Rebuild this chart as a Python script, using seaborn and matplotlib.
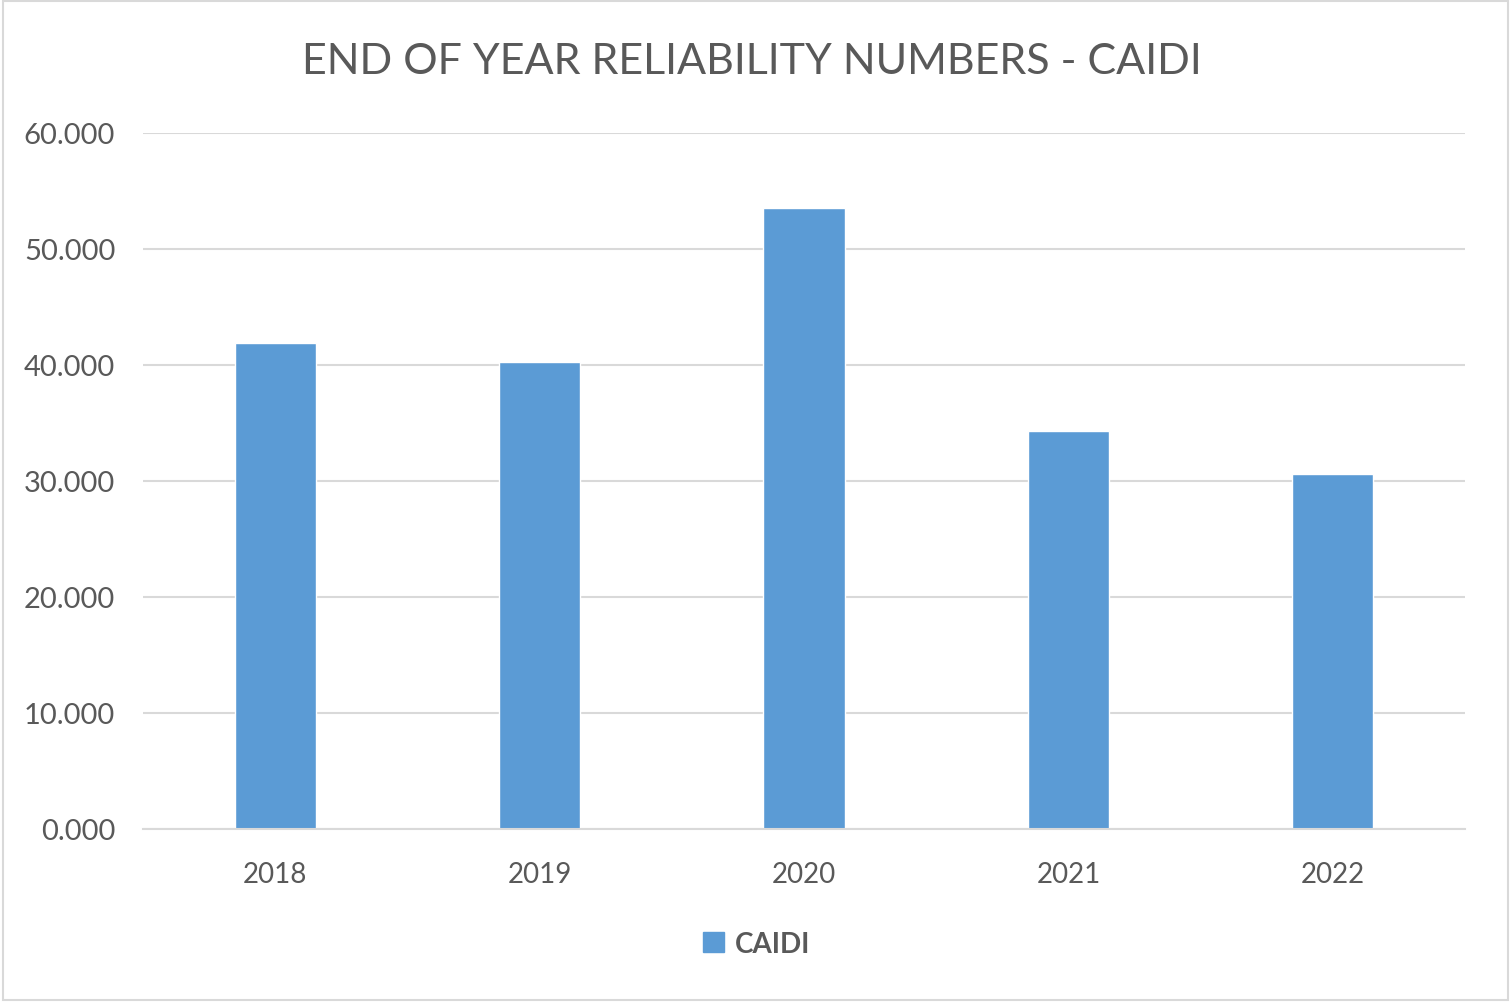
import matplotlib
matplotlib.use("Agg")
import matplotlib.pyplot as plt
import seaborn as sns
import pandas as pd
from matplotlib.patches import Rectangle

years = ["2018", "2019", "2020", "2021", "2022"]
caidi = [41.88, 40.30, 53.50, 34.30, 30.58]
yticks = [0, 10, 20, 30, 40, 50, 60]
title = "END OF YEAR RELIABILITY NUMBERS - CAIDI"
series_name = "CAIDI"

sns.set_theme(style="white")
plt.rcParams['font.family'] = ['Lato', 'DejaVu Sans']

df = pd.DataFrame({"year": years, "value": caidi, "series": series_name})

fig = plt.figure(figsize=(15.11, 10.03), dpi=100)
ax = fig.add_axes([143/1511, 1 - 830/1003, (1465-143)/1511, (830-134)/1003])

sns.barplot(data=df, x="year", y="value", hue="series", palette=["#5B9BD5"],
            width=0.307, ax=ax, legend=False, saturation=1)

ax.set_ylim(0, 60)
ax.set_xlim(-0.5, 4.5)
ax.set_yticks(yticks)
ax.set_yticklabels([f"{v:.3f}" for v in yticks])
ax.yaxis.grid(True, color="#D9D9D9", linewidth=1.5)
ax.set_axisbelow(True)
for s in ["top", "right", "left"]:
    ax.spines[s].set_visible(False)
ax.spines["bottom"].set_color("#D9D9D9")
ax.spines["bottom"].set_linewidth(1.5)
ax.tick_params(axis="both", length=0, colors="#595959")
ax.tick_params(axis="y", pad=20, labelsize=21)
ax.tick_params(axis="x", pad=23, labelsize=20)
ax.set_xlabel("")
ax.set_ylabel("")

fig.text(752/1511, 1 - 62/1003, title, ha="center", va="center",
         fontsize=31, color="#595959")

handle = Rectangle((0, 0), 1, 1, color="#5B9BD5")
fig.legend([handle], [series_name], loc="center", bbox_to_anchor=(757/1511, 1 - 945/1003),
           frameon=False, handlelength=0.75, handleheight=0.75,
           handletextpad=0.4, labelcolor="#595959",
           prop={"size": 20, "weight": "bold"})

fig.add_artist(Rectangle((0.002, 0.002), 0.996, 0.996, transform=fig.transFigure,
                         fill=False, edgecolor="#D9D9D9", linewidth=1.5))

fig.savefig("out.png", dpi=100, facecolor="white")
